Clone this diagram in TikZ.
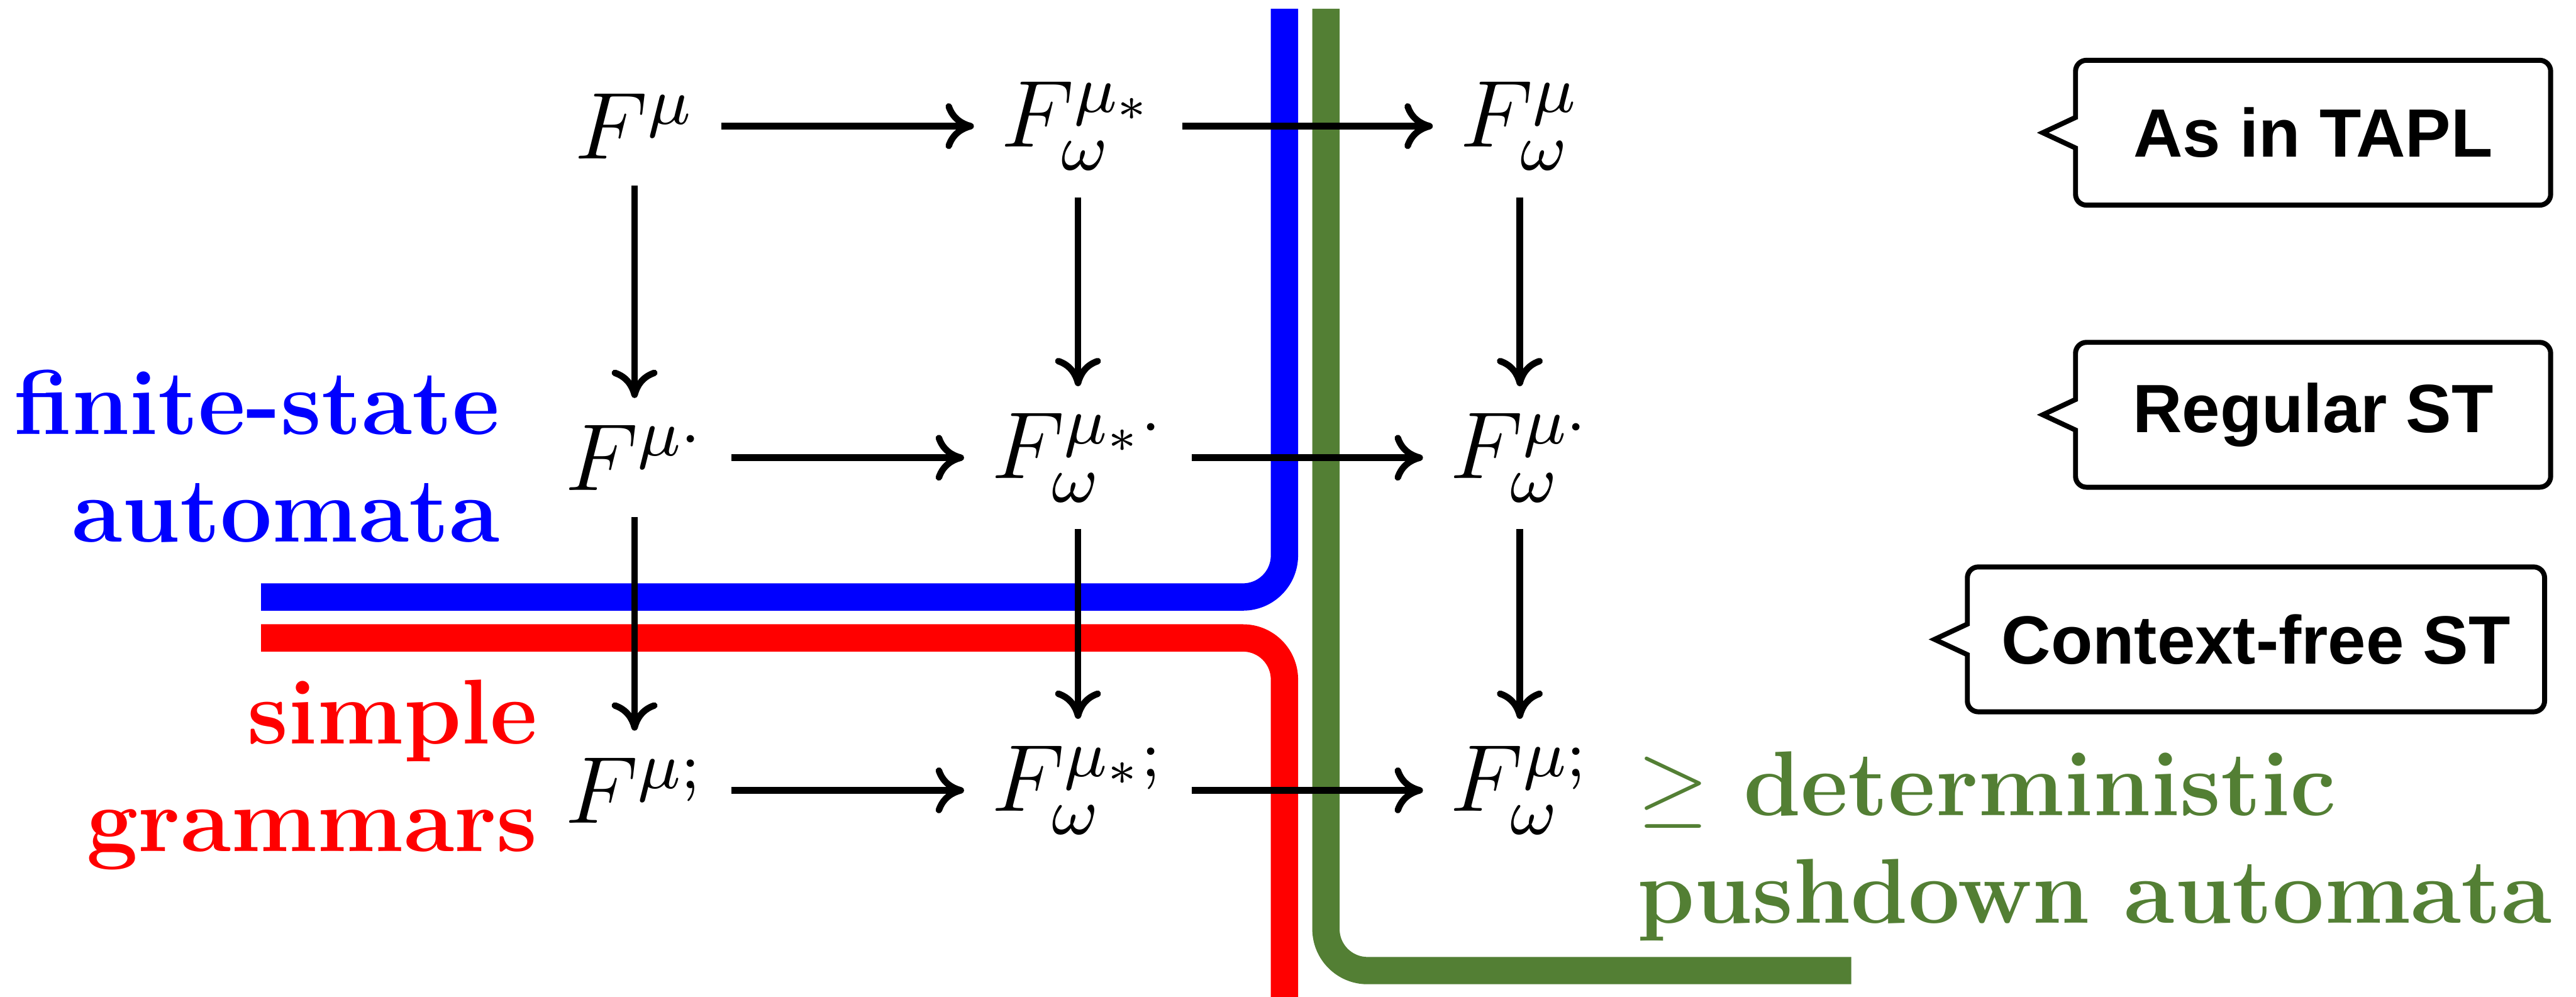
\RequirePackage{fix-cm}
\documentclass[tikz,border=0pt]{standalone}
\usepackage{amsmath, amssymb}
\usepackage{fontspec}
\usepackage{xcolor}
\usepackage{tikz}
\usetikzlibrary{positioning, arrows.meta, calc}
\newfontfamily\notefont{Liberation Sans}
\definecolor{fsablue}{RGB}{0, 0, 255}
\definecolor{sgred}{RGB}{255, 0, 0}
\definecolor{dpdagreen}{RGB}{83, 127, 52}
\newcommand{\objsize}{\fontsize{12.4pt}{15pt}\selectfont}
\newcommand{\lblsize}{\fontsize{12pt}{14pt}\selectfont}
% outline of a note with its pointer on the left
\newcommand{\notebox}[1]{%
  \draw[line width=0.65pt]
    ($(#1.west)+(-0.15, 0)$) -- ($(#1.west)+(0, 0.07)$)
    [rounded corners=0.5mm] -- (#1.north west) -- (#1.north east)
    -- (#1.south east) -- (#1.south west) [sharp corners]
    -- ($(#1.west)+(0, -0.07)$) -- cycle;}
\tikzset{
  obj/.style={font=\objsize},
  arr/.style={-{To[length=1.3mm, width=2.1mm]}, line width=0.85pt},
  band/.style={draw=#1, line width=1.25mm, rounded corners=1.9mm},
  lbl/.style={font=\lblsize\bfseries, text=#1, inner sep=0pt},
  note/.style={font=\notefont\bfseries\fontsize{8.9pt}{10pt}\selectfont,
               minimum height=6.63mm, inner sep=0pt, outer sep=0pt},
}
\begin{document}
\begin{tikzpicture}
  \useasboundingbox (0, 0) rectangle (11.7925, 4.5625);
  % class borders
  \draw[band=fsablue] (5.88, 4.5225) -- (5.88, 1.83) -- (1.195, 1.83);
  \draw[band=sgred] (1.195, 1.6425) -- (5.88, 1.6425) -- (5.88, -0.1);
  \draw[band=dpdagreen] (6.07, 4.5225) -- (6.07, 0.12) -- (8.475, 0.12);
  % calculi
  \node[obj] (f) at (2.905, 3.985) {$F^{\mu}$};
  \node[obj] (fs) at (4.935, 3.985) {$F^{\mu_*}_{\omega}$};
  \node[obj] (fw) at (6.9575, 3.985) {$F^{\mu}_{\omega}$};
  \node[obj] (fd) at (2.905, 2.4675) {$F^{\mu\cdot}$};
  \node[obj] (fsd) at (4.935, 2.4675) {$F^{\mu_*\cdot}_{\omega}$};
  \node[obj] (fwd) at (6.9575, 2.4675) {$F^{\mu\cdot}_{\omega}$};
  \node[obj] (fc) at (2.905, 0.945) {$F^{\mu;}$};
  \node[obj] (fsc) at (4.935, 0.945) {$F^{\mu_*;}_{\omega}$};
  \node[obj] (fwc) at (6.9575, 0.945) {$F^{\mu;}_{\omega}$};
  % embeddings
  \draw[arr] (f) -- (fs);
  \draw[arr] (fs) -- (fw);
  \draw[arr] (fd) -- (fsd);
  \draw[arr] (fsd) -- (fwd);
  \draw[arr] (fc) -- (fsc);
  \draw[arr] (fsc) -- (fwc);
  \draw[arr] (f) -- (fd);
  \draw[arr] (fd) -- (fc);
  \draw[arr] (fs) -- (fsd);
  \draw[arr] (fsd) -- (fsc);
  \draw[arr] (fw) -- (fwd);
  \draw[arr] (fwd) -- (fwc);
  % class labels
  \node[lbl=fsablue, align=right, anchor=east] (fsa) at (2.295, 2.475)
    {finite-state\\automata};
  \node[lbl=sgred, align=right, anchor=east] (sg) at (2.4675, 1.015)
    {simple\\grammars};
  \node[lbl=dpdagreen, align=left, anchor=west] (dpda) at (7.4875, 0.689)
    {$\geq$ deterministic\\pushdown automata};
  % notes
  \node[note, minimum width=2.175cm] (tapl) at (10.589, 3.955) {As in TAPL};
  \node[note, minimum width=2.175cm] (reg) at (10.589, 2.664) {Regular ST};
  \node[note, minimum width=2.6425cm] (cf) at (10.3275, 1.636) {Context-free ST};
  \notebox{tapl}
  \notebox{reg}
  \notebox{cf}
\end{tikzpicture}
\end{document}
